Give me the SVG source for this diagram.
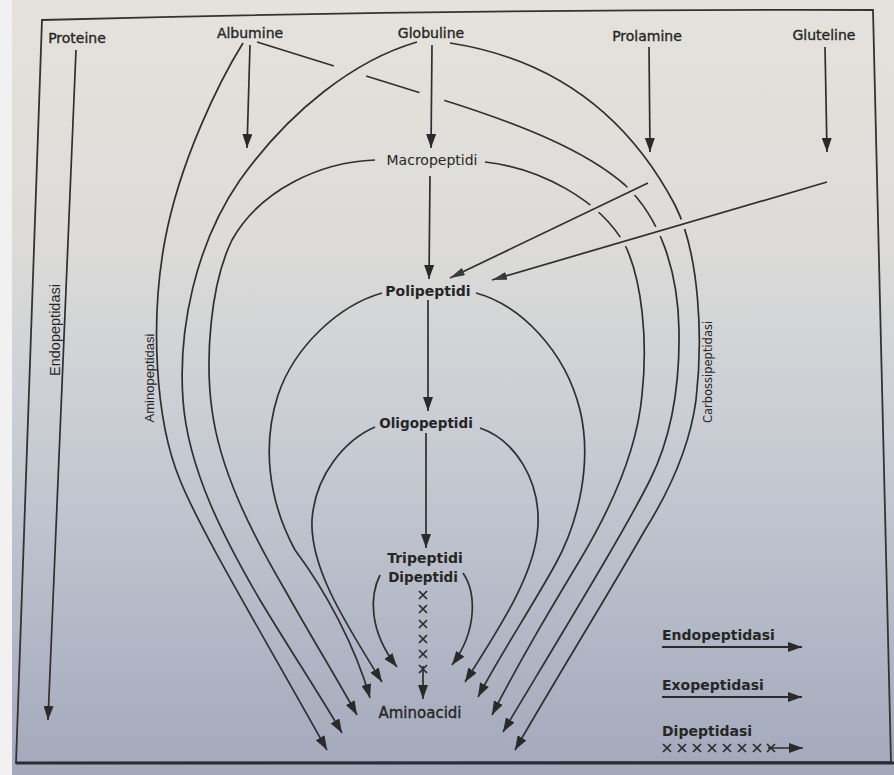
<svg xmlns="http://www.w3.org/2000/svg" width="894" height="775" viewBox="0 0 894 775">
<defs>
<linearGradient id="bg" x1="0" y1="0" x2="0" y2="1">
<stop offset="0" stop-color="#e5e2dc"/>
<stop offset="0.3" stop-color="#dddcd9"/>
<stop offset="0.55" stop-color="#cacdd4"/>
<stop offset="0.8" stop-color="#b3b9c7"/>
<stop offset="1" stop-color="#a3a9bb"/>
</linearGradient>
<marker id="ah" viewBox="0 0 14 10" refX="14" refY="5" markerWidth="14" markerHeight="10" markerUnits="userSpaceOnUse" orient="auto">
<path d="M0,0 L14,5 L0,10 z" fill="#2a2a2a"/>
</marker>
<marker id="ahs" viewBox="0 0 15 8" refX="15" refY="4" markerWidth="15" markerHeight="8" markerUnits="userSpaceOnUse" orient="auto">
<path d="M0,0 L15,4 L0,8 z" fill="#3a3a36"/>
</marker>
<mask id="cut" maskUnits="userSpaceOnUse" x="0" y="0" width="894" height="775">
<rect width="894" height="775" fill="#fff"/>
<g stroke="#000" stroke-width="10">
<line x1="648" y1="183" x2="450" y2="278"/>
<line x1="827" y1="182" x2="492" y2="280"/>
</g>
<circle cx="350" cy="71" r="17" fill="#000"/>
<circle cx="432" cy="96" r="13" fill="#000"/>
</mask>
<path id="xm" d="M-4,-4 L4,4 M-4,4 L4,-4"/>
<style>
.ln{fill:none;stroke:#2f2f2f;stroke-width:1.7}
.arr{marker-end:url(#ah)}
.arrs{marker-end:url(#ahs)}
.t{font-family:"DejaVu Sans","Liberation Sans",sans-serif;font-size:14px;fill:#262626;text-anchor:middle}
.m{stroke:#262626;stroke-width:0.35}
.b{font-weight:bold}
.r{font-family:"Liberation Sans","DejaVu Sans",sans-serif}
.x{stroke:#2a2a2a;stroke-width:1.7;fill:none}
</style>
</defs>

<rect width="894" height="775" fill="url(#bg)"/>
<rect x="0" y="0" width="12" height="775" fill="#f1f1f1"/>
<path d="M42,20 Q457,9 873,10 L891,762 L16,763 Z" fill="none" stroke="#333" stroke-width="1.8"/>
<line x1="16" y1="763" x2="894" y2="763" stroke="#2a2c34" stroke-width="3"/>

<g id="connectors">
<line class="ln arr" x1="76" y1="50" x2="48" y2="720"/>
<line class="ln arr" x1="250" y1="45" x2="247" y2="148"/>
<line class="ln arr" x1="432" y1="45" x2="431" y2="148"/>
<line class="ln arr" x1="430" y1="176" x2="429" y2="279"/>
<line class="ln arr" x1="428" y1="300" x2="428" y2="411"/>
<line class="ln arr" x1="426" y1="433" x2="426" y2="548"/>
<line class="ln arr" x1="649" y1="47" x2="650" y2="152"/>
<line class="ln arr" x1="825" y1="47" x2="827" y2="152"/>
<line class="ln arrs" x1="648" y1="183" x2="450" y2="278"/>
<line class="ln arrs" x1="827" y1="182" x2="492" y2="280"/>

<path class="ln arr" d="M243,43 C220,80 180,160 165,240 C150,320 155,420 180,480 C200,530 260,630 327,750"/>
<path class="ln arr" d="M417,42 C355,60 290,110 240,180 C195,245 178,330 183,400 C188,470 225,540 260,600 C290,650 320,695 342,733"/>
<path class="ln arr" d="M375,160 C320,162 260,190 232,240 C210,285 205,360 212,410 C220,470 250,530 285,590 C310,635 335,675 357,715"/>
<path class="ln arr" d="M382,293 C340,305 295,345 278,395 C262,445 268,500 295,550 C325,590 355,645 370,698"/>
<path class="ln arr" d="M375,427 C345,440 315,475 312,520 C310,565 340,615 382,682"/>
<path class="ln arr" d="M380,575 C370,595 368,630 397,667"/>

<g mask="url(#cut)">
<path class="ln arr" d="M450,43 C560,60 630,120 675,205 C700,255 703,340 696,400 C690,445 670,490 645,530 C605,600 560,672 515,750"/>
<path class="ln arr" d="M257,42 L440,99 C520,124 585,150 625,185 C660,218 678,270 679,330 C680,390 670,440 650,480 C625,530 570,620 503,732"/>
<path class="ln arr" d="M485,162 C540,168 600,200 625,245 C642,280 648,340 642,395 C637,450 610,510 580,560 C550,610 520,660 492,715"/>
</g>
<path class="ln arr" d="M476,293 C520,305 565,350 580,410 C592,460 580,520 555,565 C530,610 500,655 478,697"/>
<path class="ln arr" d="M480,428 C515,440 540,480 538,525 C536,570 505,620 465,682"/>
<path class="ln arr" d="M463,573 C476,592 478,630 452,665"/>

<g class="x">
<use href="#xm" x="423" y="595"/>
<use href="#xm" x="423" y="609"/>
<use href="#xm" x="423" y="624"/>
<use href="#xm" x="423" y="639"/>
<use href="#xm" x="423" y="654"/>
<use href="#xm" x="423" y="669"/>
</g>
<line class="ln arr" x1="423" y1="666" x2="423" y2="699"/>
</g>

<g id="proteine"><text class="t m" x="77" y="43">Proteine</text></g>
<g id="albumine"><text class="t m" x="250" y="38">Albumine</text></g>
<g id="globuline"><text class="t m" x="431" y="38">Globuline</text></g>
<g id="prolamine"><text class="t m" x="647" y="41">Prolamine</text></g>
<g id="gluteline"><text class="t m" x="824" y="40">Gluteline</text></g>
<g id="macropeptidi"><text class="t" x="432" y="165">Macropeptidi</text></g>
<g id="polipeptidi"><text class="t b" x="428" y="296">Polipeptidi</text></g>
<g id="oligopeptidi"><text class="t b" x="426" y="428" style="font-size:13.5px">Oligopeptidi</text></g>
<g id="tripeptidi"><text class="t b" x="425" y="563">Tripeptidi</text></g>
<g id="dipeptidi"><text class="t b" x="423" y="582" style="font-size:13.5px">Dipeptidi</text></g>
<g id="aminoacidi"><text class="t m" x="420" y="718" style="font-size:15px">Aminoacidi</text></g>

<g id="label-endopeptidasi"><text class="t r" transform="translate(60,330) rotate(-90)" style="font-size:14.5px">Endopeptidasi</text></g>
<g id="label-aminopeptidasi"><text class="t r" transform="translate(154,378) rotate(-90)" style="font-size:13px">Aminopeptidasi</text></g>
<g id="label-carbossipeptidasi"><text class="t" transform="translate(712,372) rotate(-90)" style="font-size:11.5px">Carbossipeptidasi</text></g>

<g id="legend">
<text class="t b" x="662" y="640" style="text-anchor:start">Endopeptidasi</text>
<line x1="662" y1="647" x2="802" y2="647" stroke="#2a2a2a" stroke-width="2" marker-end="url(#ah)"/>
<text class="t b" x="662" y="690" style="text-anchor:start">Exopeptidasi</text>
<line x1="662" y1="697" x2="802" y2="697" stroke="#2a2a2a" stroke-width="2" marker-end="url(#ah)"/>
<text class="t b" x="662" y="736" style="text-anchor:start">Dipeptidasi</text>
<g class="x">
<use href="#xm" x="667" y="748"/>
<use href="#xm" x="682" y="748"/>
<use href="#xm" x="697" y="748"/>
<use href="#xm" x="712" y="748"/>
<use href="#xm" x="727" y="748"/>
<use href="#xm" x="742" y="748"/>
<use href="#xm" x="757" y="748"/>
<use href="#xm" x="771" y="748"/>
</g>
<line x1="768" y1="748" x2="803" y2="748" stroke="#2a2a2a" stroke-width="1.7" marker-end="url(#ah)"/>
</g>
</svg>
